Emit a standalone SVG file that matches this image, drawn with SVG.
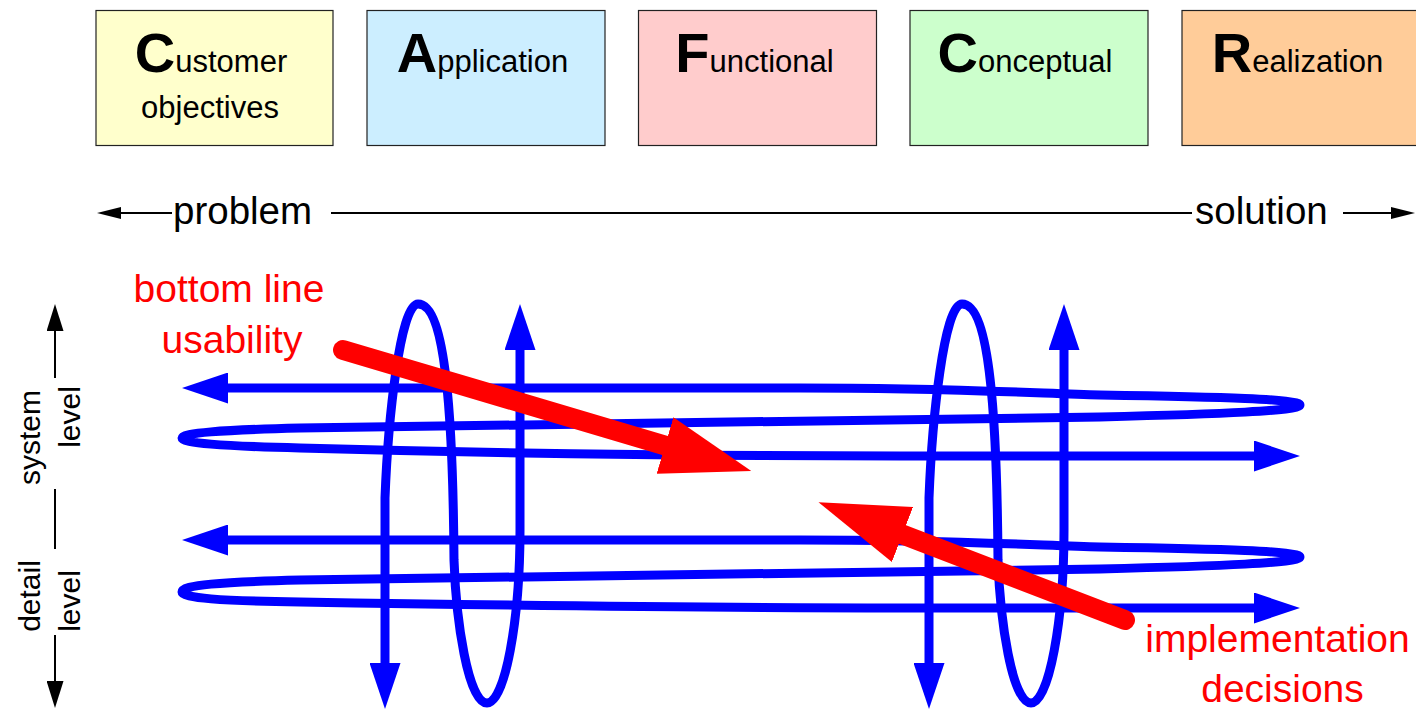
<svg xmlns="http://www.w3.org/2000/svg" width="1416" height="709" viewBox="0 0 1416 709">
<style>
  .box { stroke: #222; stroke-width: 1.2; }
  .bt { font-family: "Liberation Sans", Arial, sans-serif; font-size: 31px; fill: #000; text-anchor: middle; }
  .init { font-size: 56px; font-weight: bold; }
  .axis { font-family: "Liberation Sans", Arial, sans-serif; font-size: 38.5px; fill: #000; }
  .side { font-family: "Liberation Sans", Arial, sans-serif; font-size: 30px; fill: #000; text-anchor: middle; }
  .red { font-family: "Liberation Sans", Arial, sans-serif; font-size: 39px; fill: #ff0000; text-anchor: middle; }
  .blk { stroke: #000; stroke-width: 2; fill: none; }
  .blue { stroke: #0000ff; stroke-width: 9; fill: none; stroke-linejoin: round; }
  .redl { stroke: #ff0000; stroke-width: 20; fill: none; stroke-linecap: round; }
</style>
<defs>
  <marker id="bh" markerUnits="userSpaceOnUse" viewBox="0 0 24 12" markerWidth="24" markerHeight="12" refX="1" refY="6" orient="auto-start-reverse">
    <path d="M0,0 L24,6 L0,12 z" fill="#000"/>
  </marker>
  <marker id="bv" markerUnits="userSpaceOnUse" viewBox="0 0 27 17" markerWidth="27" markerHeight="17" refX="1" refY="8.5" orient="auto-start-reverse">
    <path d="M0,0 L27,8.5 L0,17 z" fill="#000"/>
  </marker>
  <marker id="ba" markerUnits="userSpaceOnUse" viewBox="0 0 46 31" markerWidth="46" markerHeight="31" refX="0" refY="15.5" orient="auto-start-reverse">
    <path d="M0,0 L46,15.5 L0,31 z" fill="#0000ff"/>
  </marker>
  <marker id="ra" markerUnits="userSpaceOnUse" viewBox="0 0 90 59" markerWidth="90" markerHeight="59" refX="0" refY="29.5" orient="auto">
    <path d="M0,0 L90,29.5 L0,59 z" fill="#ff0000"/>
  </marker>
</defs>

<g id="node-customer">
  <rect class="box" x="96" y="10.5" width="237" height="135" fill="#ffffcc"/>
  <text class="bt" x="211" y="72"><tspan class="init">C</tspan>ustomer</text>
  <text class="bt" x="210" y="118">objectives</text>
</g>
<g id="node-application">
  <rect class="box" x="367" y="10.5" width="238" height="135" fill="#cceeff"/>
  <text class="bt" x="482.5" y="72"><tspan class="init">A</tspan>pplication</text>
</g>
<g id="node-functional">
  <rect class="box" x="638.5" y="10.5" width="238" height="135" fill="#ffcccc"/>
  <text class="bt" x="754.5" y="72"><tspan class="init">F</tspan>unctional</text>
</g>
<g id="node-conceptual">
  <rect class="box" x="910" y="10.5" width="238" height="135" fill="#ccffcc"/>
  <text class="bt" x="1025" y="72"><tspan class="init">C</tspan>onceptual</text>
</g>
<g id="node-realization">
  <rect class="box" x="1182" y="10.5" width="240" height="135" fill="#ffcc99"/>
  <text class="bt" x="1297.5" y="72"><tspan class="init">R</tspan>ealization</text>
</g>

<g id="axis-problem-solution">
  <line class="blk" x1="120" y1="213" x2="172" y2="213" marker-start="url(#bh)"/>
  <line class="blk" x1="331" y1="213" x2="1192" y2="213"/>
  <line class="blk" x1="1343" y1="213" x2="1392" y2="213" marker-end="url(#bh)"/>
  <text class="axis" x="173" y="224">problem</text>
  <text class="axis" x="1195" y="224">solution</text>
</g>

<g id="axis-level">
  <line class="blk" x1="55" y1="330" x2="55" y2="378" marker-start="url(#bv)"/>
  <line class="blk" x1="55" y1="489" x2="55" y2="549"/>
  <line class="blk" x1="55" y1="635" x2="55" y2="682" marker-end="url(#bv)"/>
  <text class="side" transform="translate(40,437.5) rotate(-90)">system</text>
  <text class="side" transform="translate(80,417) rotate(-90)">level</text>
  <text class="side" transform="translate(40,596) rotate(-90)">detail</text>
  <text class="side" transform="translate(80,601) rotate(-90)">level</text>
</g>

<g id="connectors">
  <path id="spiral-system" class="blue" marker-start="url(#ba)" marker-end="url(#ba)"
        d="M228,388 L800,388 C950,388 1030,393 1100,395 C1220,397 1300,399 1300,405 C1300,411 1220,414 1100,417 C900,420 600,424 300,428 C220,430 182,433 182,438 C182,443 220,446 300,448 C480,453 700,456 900,456 L1254,456"/>
  <path id="spiral-detail" class="blue" marker-start="url(#ba)" marker-end="url(#ba)" transform="translate(0,152)"
        d="M228,388 L800,388 C950,388 1030,393 1100,395 C1220,397 1300,399 1300,405 C1300,411 1220,414 1100,417 C900,420 600,424 300,428 C220,430 182,433 182,440 C182,446 220,449 300,450 C480,453 700,456 900,456 L1254,456"/>
  <path id="spiral-left" class="blue" marker-start="url(#ba)" marker-end="url(#ba)"
        d="M520,350 L520,530 C520,620 505,703 487,703 C468,703 456,620 454,560 C453,420 446,304 418,304 C400,304 388,420 385,498 L385,663"/>
  <path id="spiral-right" class="blue" marker-start="url(#ba)" marker-end="url(#ba)" transform="translate(544,0)"
        d="M520,350 L520,530 C520,620 505,703 487,703 C468,703 456,620 454,560 C453,420 446,304 418,304 C400,304 388,420 385,498 L385,663"/>
  <line id="arrow-bottom-line" class="redl" x1="343" y1="350" x2="665" y2="445.5" marker-end="url(#ra)"/>
  <line id="arrow-implementation" class="redl" x1="1125" y1="620" x2="902.5" y2="534.5" marker-end="url(#ra)"/>
</g>

<g id="label-bottom-line">
  <text class="red" x="229" y="302">bottom line</text>
  <text class="red" x="232" y="353">usability</text>
</g>
<g id="label-implementation">
  <text class="red" x="1277.5" y="652">implementation</text>
  <text class="red" x="1282.5" y="702">decisions</text>
</g>
</svg>
